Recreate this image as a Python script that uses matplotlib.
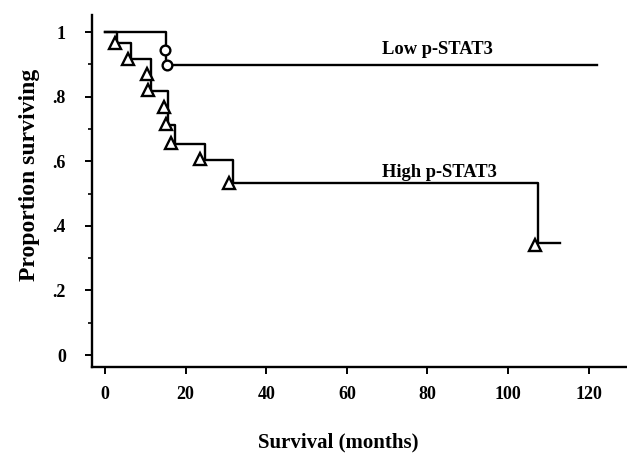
import matplotlib
matplotlib.use("Agg")
import matplotlib.pyplot as plt
from matplotlib.ticker import MultipleLocator

plt.rcParams['font.family'] = ['Liberation Serif', 'DejaVu Serif']
plt.rcParams['font.weight'] = 'bold'

# High p-STAT3 step curve (months, proportion surviving)
high_t = [0, 2.9, 6.4, 11.3, 15.5, 17.4, 24.8, 31.7, 107.5, 113]
high_s = [1.0, 0.966, 0.917, 0.818, 0.712, 0.653, 0.603, 0.533, 0.346, 0.346]
# triangle markers on the high curve
high_mark_t = [2.5, 5.8, 10.3, 10.7, 14.7, 15.1, 16.3, 23.6, 30.8, 106.7]
high_mark_s = [0.966, 0.918, 0.872, 0.820, 0.769, 0.715, 0.657, 0.606, 0.533, 0.342]

# Low p-STAT3 step curve
low_t = [0, 15.0, 122]
low_s = [1.0, 0.897, 0.897]
low_mark_t = [14.9, 15.3]
low_mark_s = [0.944, 0.898]

fig = plt.figure(figsize=(6.27, 4.57), dpi=100)
ax = fig.add_axes([0.147, 0.197, 0.853, 0.77])

ax.plot(low_t, low_s, drawstyle='steps-post', color='black', lw=1.7)
ax.plot(high_t, high_s, drawstyle='steps-post', color='black', lw=1.7)
ax.plot(low_mark_t, low_mark_s, 'o', ms=7, mfc='white', mec='black', mew=1.7)
ax.plot(high_mark_t, high_mark_s, '^', ms=8, mfc='white', mec='black', mew=1.7)

ax.text(68.7, 0.932, "Low p-STAT3", fontsize=13.3, fontweight='bold', va='baseline')
ax.text(68.7, 0.552, "High p-STAT3", fontsize=13.3, fontweight='bold', va='baseline')

ax.set_xlim(-3.2, 129.5)
ax.set_ylim(-0.037, 1.053)
ax.set_xticks([0, 20, 40, 60, 80, 100, 120])
ax.set_yticks([0, 0.2, 0.4, 0.6, 0.8, 1.0])
ax.set_yticklabels(['0', '.2', '.4', '.6', '.8', '1'])
ax.yaxis.set_minor_locator(MultipleLocator(0.1))
ax.tick_params(axis='both', which='major', length=5, width=1.4, labelsize=13)
ax.tick_params(axis='x', which='major', pad=9)
ax.tick_params(axis='y', which='major', pad=14)
ax.tick_params(axis='y', which='minor', length=3, width=1.2)

for s in ['top', 'right']:
    ax.spines[s].set_visible(False)
for s in ['left', 'bottom']:
    ax.spines[s].set_linewidth(1.7)

ax.set_xlabel("Survival (months)", fontsize=15, fontweight='bold')
ax.set_ylabel("Proportion surviving", fontsize=17, fontweight='bold')
ax.xaxis.set_label_coords(0.46, -0.185)
ax.yaxis.set_label_coords(-0.097, 0.545)

fig.savefig("out.png", dpi=100)
